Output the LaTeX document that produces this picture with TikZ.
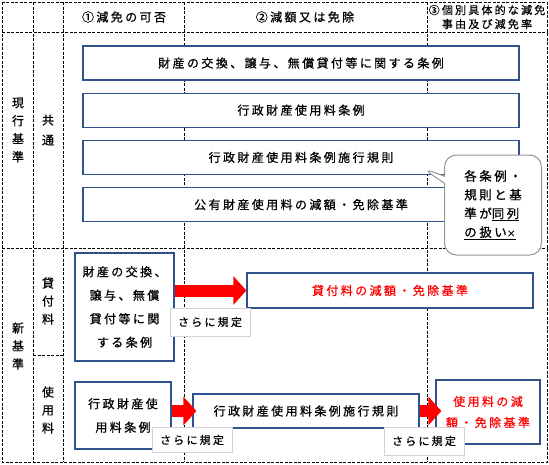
\documentclass[tikz,border=0pt]{standalone}
\usepackage{fontspec}
\setmainfont{Noto Sans CJK JP}[LetterSpace=20, RawFeature={embolden=0.7}]
\usetikzlibrary{positioning,arrows.meta,shapes.callouts}
\definecolor{boxblue}{RGB}{47,82,143}
\definecolor{notegray}{RGB}{150,150,150}

\begin{document}
\begin{tikzpicture}[x=1pt, y=-1pt, every node/.style={font=\fontsize{12}{18}\selectfont, inner sep=0pt},
  grid/.style={dash pattern=on 3pt off 1.5pt, line width=0.7pt},
  box/.style={draw=boxblue, line width=1.2pt, fill=white, align=center},
  wide/.style={box, minimum width=436pt, minimum height=34pt},
  redbox/.style={box, text=red},
  tall/.style={font=\fontsize{12}{23.5}\selectfont},
  tag/.style={draw=gray!35, fill=white, minimum width=80pt, minimum height=28pt, font=\fontsize{11}{13}\selectfont},
  bigarrow/.style={draw=red, line width=12pt, -{Triangle[width=28pt,length=13pt]}}]
\useasboundingbox (0,0) rectangle (549,464);

% table grid
\draw[grid] (2,2) rectangle (547,462);
\draw[grid] (2,32) -- (547,32);
\draw[grid] (2,248) -- (547,248);
\foreach \x in {33,63,184,427} \draw[grid] (\x,2) -- (\x,462);
\draw[grid] (33,355) -- (63,355);

% headings
\node (step1) at (124,17) {①減免の可否};
\node (step2) at (305,17) {②減額又は免除};
\node[align=center, font=\fontsize{11}{14}\selectfont] (step3) at (487,17) {③個別具体的な減免\\事由及び減免率};

\node[align=center] (cur) at (18,130) {現\\行\\基\\準};
\node[align=center, font=\fontsize{12}{20}\selectfont] (common) at (48,130) {共\\通};
\node[align=center] (new) at (18,346) {新\\基\\準};
\node[align=center] (lend) at (48,301) {貸\\付\\料};
\node[align=center] (use) at (48,410) {使\\用\\料};

% current rules
\node[wide] (law1) at (301,63) {財産の交換、譲与、無償貸付等に関する条例};
\node[wide, below=12pt of law1] (law2) {行政財産使用料条例};
\node[wide, below=12pt of law2] (law3) {行政財産使用料条例施行規則};
\node[wide, below=12pt of law3] (law4) {公有財産使用料の減額・免除基準};

% new rules
\node[box, tall, minimum width=99pt, minimum height=108pt] (lendlaw) at (124.5,307) {財産の交換、\\譲与、無償\\貸付等に関\\する条例};
\node[redbox, minimum width=286pt, minimum height=35pt] (lendrule) at (390,290.5) {貸付料の減額・免除基準};
\node[box, tall, minimum width=96pt, minimum height=67pt] (uselaw) at (123,415.5) {行政財産使\\用料条例};
\node[box, minimum width=226pt, minimum height=34pt] (usereg) at (306,411) {行政財産使用料条例施行規則};
\node[redbox, font=\fontsize{12}{21}\selectfont, minimum width=104pt, minimum height=64pt] (userule) at (488,412) {使用料の減\\額・免除基準};

\draw[bigarrow] (lendlaw.east |- lendrule.west) -- (lendrule.west);
\draw[bigarrow, shorten >=-4pt] (uselaw.east |- usereg.west) -- (usereg.west);
\draw[bigarrow, shorten >=-6pt] (usereg.east) -- (userule.west |- usereg.east);

\node[tag] (more1) at (210,322) {さらに規定};
\node[tag, minimum height=25pt] (more2) at (192,440) {さらに規定};
\node[tag] (more3) at (424,441) {さらに規定};

% remark
\node[draw=notegray, line width=1pt, fill=white, rounded corners=12pt, rectangle callout,
  callout absolute pointer={(422,168)}, minimum width=97pt, minimum height=100pt,
  align=left, font=\fontsize{12.5}{18.7}\selectfont] (remark) at (493,205)
  {各条例・\\規則と基\\準が\underline{同列}\\\underline{の扱い{\small ×}}};
\end{tikzpicture}
\end{document}
